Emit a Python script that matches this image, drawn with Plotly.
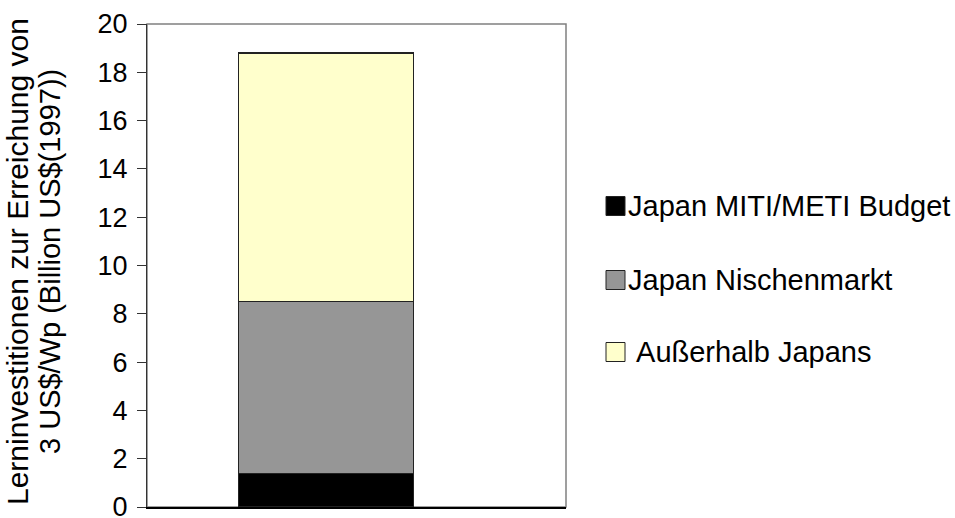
import plotly.graph_objects as go

# Learning investments needed to reach 3 US$/Wp, split by source
category = [0]
series_names = ["Japan MITI/METI Budget", "Japan Nischenmarkt", " Außerhalb Japans"]
series_values = [[1.4], [7.1], [10.3]]
series_colors = ["#000000", "#969696", "#FFFFCC"]

y_ticks = list(range(0, 21, 2))
title_lines = ["Lerninvestitionen zur Erreichung von", "3 US$/Wp (Billion US$(1997))"]

W, H = 955, 518
ML, MR, MT, MB = 147, 389, 24, 11
PW, PH = W - ML - MR, H - MT - MB


def px_x(px):
    return (px - ML) / PW


def px_y(py):
    return (H - MB - py) / PH


font_family = "Liberation Sans, Arial, sans-serif"

fig = go.Figure()
for name, vals, col in zip(series_names, series_values, series_colors):
    fig.add_trace(go.Bar(
        x=category, y=vals, name=name.strip(), showlegend=False,
        width=0.49,
        marker=dict(color=col, line=dict(color="#222222", width=1.2)),
    ))

# Legend: square swatch followed by the series name
shapes = [dict(
    type="rect", xref="paper", yref="paper", x0=0, x1=1, y0=0, y1=1,
    line=dict(color="#808080", width=1.5), layer="below",
)]
annotations = []
legend_centers = [206, 280, 352]
for name, col, cy in zip(series_names, series_colors, legend_centers):
    shapes.append(dict(
        type="rect", xref="paper", yref="paper",
        x0=px_x(606), x1=px_x(625), y0=px_y(cy + 9.5), y1=px_y(cy - 9.5),
        fillcolor=col, line=dict(color="#222222", width=1),
    ))
    annotations.append(dict(
        text=name.replace(" ", "&nbsp;", 1) if name.startswith(" ") else name,
        xref="paper", yref="paper", x=px_x(626), y=px_y(cy),
        xanchor="left", yanchor="middle", showarrow=False,
        font=dict(size=29, family=font_family, color="black"),
    ))

# Two-line rotated axis title
for line, cx, size in zip(title_lines, [17, 50], [30, 29]):
    annotations.append(dict(
        text=line, xref="paper", yref="paper", x=px_x(cx), y=px_y(262),
        xanchor="center", yanchor="middle", textangle=-90, showarrow=False,
        font=dict(size=size, family=font_family, color="black"),
    ))

fig.update_layout(
    width=W, height=H,
    barmode="stack",
    paper_bgcolor="white", plot_bgcolor="white",
    margin=dict(l=ML, r=MR, t=MT, b=MB, autoexpand=False),
    font=dict(family=font_family, size=27, color="black"),
    showlegend=False,
    shapes=shapes,
    annotations=annotations,
)

fig.update_xaxes(
    range=[-0.5, 0.67], showticklabels=False, showgrid=False, zeroline=False,
    showline=True, linecolor="black", linewidth=1.5, ticks="",
    automargin=False,
)
fig.update_yaxes(
    range=[0, 20], tickvals=y_ticks, showgrid=False, zeroline=False,
    showline=True, linecolor="#333333", linewidth=1.2,
    ticks="outside", ticklen=9, tickcolor="#333333", tickwidth=1.2,
    ticklabelstandoff=4, ticklabeloverflow="allow", automargin=False,
    tickfont=dict(size=27, family=font_family),
)

fig.write_html("out.html")
